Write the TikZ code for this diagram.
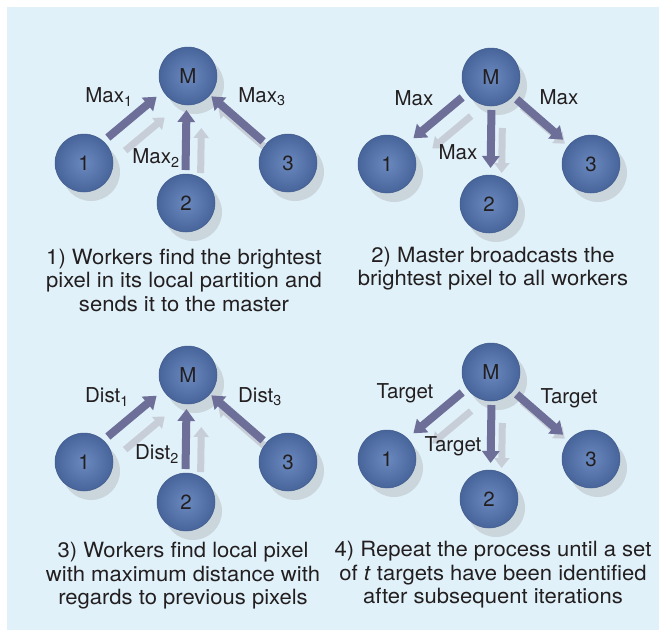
\documentclass[tikz,border=0pt]{standalone}
\usepackage{fontspec}
\setmainfont{TeX Gyre Heros}
\newfontfamily\capfont[FakeStretch=1.05]{TeX Gyre Heros}
\usepackage{tikz}
\usetikzlibrary{arrows.meta,shadows}

\definecolor{panelbg}{HTML}{E0F1F9}
\definecolor{ballin}{HTML}{6A89BF}
\definecolor{ballout}{HTML}{48659B}
\definecolor{arrowcol}{HTML}{6E6F98}
\definecolor{shadecol}{HTML}{C8CED7}
\definecolor{inkcol}{HTML}{231F20}

\tikzset{
  proc/.style={circle, minimum size=58pt, inner sep=0pt, inner color=ballin, outer color=ballout,
    draw=ballout!90!black, line width=0.5pt, text=inkcol, font=\fontsize{20.5}{24}\selectfont,
    drop shadow={shadow xshift=7pt, shadow yshift=-9pt, fill=black!40, opacity=0.3}},
  msg/.style={draw=arrowcol, line width=8pt, -{Triangle[width=17pt,length=12pt]}},
  msgshade/.style={draw=shadecol, line width=7pt, -{Triangle[width=15pt,length=10pt]}},
  lbl/.style={text=inkcol, inner sep=0pt, font=\fontsize{20.5}{24}\selectfont},
  caption/.style={text=inkcol, inner sep=0pt, align=center, font=\capfont\fontsize{21}{23.5}\selectfont}
}

\begin{document}
\begin{tikzpicture}[x=1pt, y=-1pt]
    \useasboundingbox (0,0) rectangle (659,630);
    \fill[white] (0,0) rectangle (659,630);
    \fill[panelbg] (7,7) rectangle (659,630);

    \foreach \p/\dx/\dy in {a/0/0, b/303/1, c/0/299, d/303/296} {
        \begin{scope}[shift={(\dx,\dy)}, name prefix=\p-]
            \node[proc] (m) at (188,76) {M};
            \node[proc] (w1) at (84,163) {1};
            \node[proc] (w2) at (186,203) {2};
            \node[proc] (w3) at (288,163) {3};
        \end{scope}
    }

    \foreach \p in {a,c} {
        \draw[msgshade, transform canvas={shift={(12,12)}}, shorten <=38pt, shorten >=46pt] (\p-w1.center) -- (\p-m.center);
        \draw[msgshade, transform canvas={shift={(14,10)}}, shorten <=40pt, shorten >=42pt] (\p-w2.center) -- (\p-m.center);
        \draw[msgshade, transform canvas={shift={(3,7)}}, shorten <=36pt, shorten >=36pt] (\p-w3.center) -- (\p-m.center);
        \draw[msg, transform canvas={shift={(-3,-3)}}, shorten <=35pt, shorten >=37pt] (\p-w1.center) -- (\p-m.center);
        \draw[msg, transform canvas={shift={(-1,0)}}, shorten <=33pt, shorten >=34pt] (\p-w2.center) -- (\p-m.center);
        \draw[msg, shorten <=33pt, shorten >=31pt] (\p-w3.center) -- (\p-m.center);
    }

    \foreach \p in {b,d} {
        \draw[msgshade, transform canvas={shift={(10,14)}}, shorten <=39pt, shorten >=46pt] (\p-m.center) -- (\p-w1.center);
        \draw[msgshade, transform canvas={shift={(12,8)}}, shorten <=43pt, shorten >=39pt] (\p-m.center) -- (\p-w2.center);
        \draw[msgshade, transform canvas={shift={(4,6)}}, shorten <=36pt, shorten >=40pt] (\p-m.center) -- (\p-w3.center);
        \draw[msg, transform canvas={shift={(-2,-2)}}, shorten <=35pt, shorten >=37pt] (\p-m.center) -- (\p-w1.center);
        \draw[msg, transform canvas={shift={(1,0)}}, shorten <=33pt, shorten >=36pt] (\p-m.center) -- (\p-w2.center);
        \draw[msg, shorten <=34pt, shorten >=37pt] (\p-m.center) -- (\p-w3.center);
    }

    \begin{scope}[name prefix=a-]
        \node[lbl] (l1) at (109,97) {Max\textsubscript{1}};
        \node[lbl] (l2) at (156,158) {Max\textsubscript{2}};
        \node[lbl] (l3) at (262,97) {Max\textsubscript{3}};
        \node[caption] (cap) at (184,280) {1) Workers find the brightest\\pixel in its local partition and\\sends it to the master};
    \end{scope}

    \begin{scope}[shift={(303,1)}, name prefix=b-]
        \node[lbl] (l1) at (111,97) {Max};
        \node[lbl] (l2) at (155,151) {Max};
        \node[lbl] (l3) at (256,96) {Max};
        \node[caption] (cap) at (190,267.5) {2) Master broadcasts the\\brightest pixel to all workers};
    \end{scope}

    \begin{scope}[shift={(0,299)}, name prefix=c-]
        \node[lbl] (l1) at (107,98) {Dist\textsubscript{1}};
        \node[lbl] (l2) at (157,155) {Dist\textsubscript{2}};
        \node[lbl] (l3) at (260,98) {Dist\textsubscript{3}};
        \node[caption] (cap) at (183,277) {3) Workers find local pixel\\with maximum distance with\\regards to previous pixels};
    \end{scope}

    \begin{scope}[shift={(303,296)}, name prefix=d-]
        \node[lbl] (l1) at (102,97) {Target};
        \node[lbl] (l2) at (150,150) {Target};
        \node[lbl] (l3) at (266,102) {Target};
        \node[caption] (cap) at (190,279) {4) Repeat the process until a set\\of \textit{t} targets have been identified\\after subsequent iterations};
    \end{scope}
\end{tikzpicture}
\end{document}
